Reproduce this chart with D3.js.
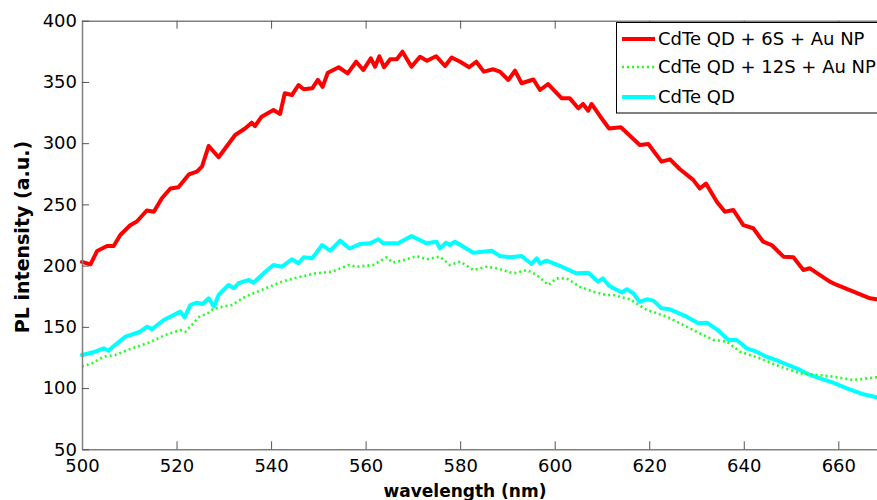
<!DOCTYPE html>
<html><head><meta charset="utf-8">
<script src="https://cdn.jsdelivr.net/npm/d3@7/dist/d3.min.js"></script>
<style>
html,body{margin:0;padding:0;background:#fff;overflow:hidden}
text{font-family:"DejaVu Sans",Verdana,sans-serif}
</style></head>
<body><svg id="c" width="877" height="500"></svg>
<script>
// ---- data ----
const seriesNames = ["CdTe QD + 6S + Au NP", "CdTe QD + 12S + Au NP", "CdTe QD"];
const xTicks = [500, 520, 540, 560, 580, 600, 620, 640, 660];
const yTicks = [50, 100, 150, 200, 250, 300, 350, 400];

const redX = [500,501.8,503.2,505.3,506.7,508.1,510.2,511.6,513.7,515.2,516.9,518.7,520.4,522.6,524.3,525.4,526.8,528.9,532.4,534.5,535.9,536.6,538,540.5,541.9,542.9,544.4,545.8,546.9,548.7,549.9,550.9,552,554.3,556.2,558,559.5,561.1,562,562.9,563.9,565.2,566.6,567.8,569.7,571.5,573,574.9,576.8,578.2,580,581.9,583.4,585,587,588.4,590.2,591.6,593,595.5,596.9,598.6,601.5,603.2,605,606,607.1,607.8,609.6,611.5,614,618,619.8,622.6,624.4,626.5,629.3,630.7,632,634.3,636,637.8,639.9,642,644.1,645.9,648.4,650.5,652.6,654,658.2,659.7,663.2,666.7,668.1,672];
const redY = [203,201,212,216,216,225,233,236,245,244,255,263,264,274.5,276.7,281,297.7,288.5,306.7,312,316.7,314,321.6,327,323.8,340.7,339.3,347.5,344,344.8,351.6,346,357.5,362,357,366.5,359.7,369.3,362.4,371,362,368.5,368.5,374.7,362.4,370.6,367.3,371,363,370,366.5,362,366.5,358.4,360.3,358.4,351.6,359.2,348.9,352,343.4,348.3,336.6,336.6,328.5,332,326.5,332,322,312,313,298.5,299.3,284.9,286.8,278.7,270,263,267,252.2,244,245.4,233,230.5,219.5,216.8,207.3,206.8,196.4,197.8,186.9,184.2,178.7,173.3,172.5,168];

const greenX = [500,502.1,504.6,507,510.6,514.1,517.6,520.8,521.9,524.7,526.8,527.9,531.7,534.5,538,542.3,545.8,549.4,552.9,556.4,558.1,561.6,564.4,565.8,568.7,570.8,572.9,575.7,577.8,580,582.8,585.6,587.7,591.3,594.1,596.2,598.7,600.4,602.5,605.3,608.2,611,612.4,615.9,619.5,623.7,627.2,630.7,633.6,636.4,639.2,643.4,647.7,651.9,655.4,658.9,663.2,668.1,672];
const greenY = [117.5,120.2,125.6,127,132.5,137,143.3,147.4,146,157.8,161.6,165.1,167.8,174.6,180.1,186.9,190.5,193.7,195,200.5,199.1,200.5,206.8,202.4,205.2,207.8,205.2,207.3,200.5,203.3,196.4,199.1,197.8,193.7,196.4,192.3,184.2,189.6,189.6,182.8,178.7,176,176,172.5,163.8,158.3,151.5,144.7,139.3,137.9,129.7,124.3,117.5,112,110.7,109.3,106.6,108.8,108];

const cyanX = [500,502.8,504.6,505.6,507,509.2,512.3,513.8,514.8,517.3,519,520.8,521.7,522.9,524.3,525.5,526.8,527.9,528.9,531,532.1,533.1,535.3,536.3,538.4,540.5,542.3,544.4,545.8,546.9,548.7,550.8,552.5,554.6,556.6,558.8,560.9,562.7,563.7,566.9,569.7,572.9,575,575.7,577,577.8,578.9,582.8,586.7,588.4,590.5,593,595.1,596.2,596.9,598.3,601.5,604.6,607.1,609.2,610.2,611.5,614.2,615.3,616.6,618,619.5,620.9,622.6,624.4,627.9,630.4,632.2,634.3,636.8,638.5,640.6,642.7,644.8,647.7,651.2,654,656.1,658.9,661.8,665.3,668.1,672];
const cyanY = [127,129.7,132.5,130.5,135.2,142,146,150.1,148,155.6,158.9,162.4,157.8,167.8,169.7,168.7,173.3,166.5,176,184.2,181.5,185.6,188.3,186,193.7,200.5,199.1,205.2,201.9,206.8,206,216.8,212.2,220.4,214,217.6,218.2,221.5,218.2,218.2,224.2,218.2,219.5,214,218.8,216.8,219.5,210.5,212.2,207.8,206.8,207.8,201.3,206,201.9,204,199.1,193.7,194.2,186.9,189.6,183.5,178,180.7,177.4,170.5,172.5,171.4,165.1,164.3,158.3,152.9,153.4,148,139.3,139.3,132.5,129.7,125.6,121.5,116.1,110.7,108,104.4,99.8,94.9,92.5,89];

// ---- chart ----
const svg = d3.select("#c");
const mLeft = 82, mTop = 20.7, mBottom = 449.3;
const pxPerNm = 4.727;
const x = d3.scaleLinear().domain([500, 700]).range([mLeft, mLeft + 200 * pxPerNm]);
const y = d3.scaleLinear().domain([50, 400]).range([mBottom, mTop]);

const series = [
  {name: seriesNames[0], xs: redX, ys: redY, color: "#ff0000", width: 4, dash: null},
  {name: seriesNames[1], xs: greenX, ys: greenY, color: "#22ff22", width: 2.6, dash: "2,3"},
  {name: seriesNames[2], xs: cyanX, ys: cyanY, color: "#00ffff", width: 4, dash: null}
];

const line = d3.line().x(d => x(d[0])).y(d => y(d[1]));
const drawOrder = [2, 1, 0];
drawOrder.forEach(i => {
  const s = series[i];
  const pts = s.xs.map((v, k) => [v, s.ys[k]]);
  svg.append("path").datum(pts).attr("d", line)
    .attr("fill", "none").attr("stroke", s.color).attr("stroke-width", s.width)
    .attr("stroke-linejoin", "round").attr("stroke-linecap", s.dash ? "butt" : "round")
    .attr("stroke-dasharray", s.dash);
});

function styleAxis(g) {
  g.select(".domain").attr("stroke", "#808080").attr("stroke-width", 1.5);
  g.selectAll(".tick line").attr("stroke", "#555").attr("stroke-width", 1);
  g.selectAll(".tick text").attr("fill", "#000").style("font-size", "18px")
    .style("font-family", '"DejaVu Sans",Verdana,sans-serif');
}

svg.append("g").attr("transform", `translate(0,${mBottom})`)
  .call(d3.axisBottom(x).tickValues(xTicks).tickFormat(d3.format("d")).tickSize(-8).tickSizeOuter(0).tickPadding(10))
  .call(styleAxis);
svg.append("g").attr("transform", `translate(0,${mTop})`)
  .call(d3.axisTop(x).tickValues(xTicks).tickFormat("").tickSize(-8).tickSizeOuter(0))
  .call(styleAxis);
svg.append("g").attr("transform", `translate(${mLeft},0)`)
  .call(d3.axisLeft(y).tickValues(yTicks).tickFormat(d3.format("d")).tickSize(-7).tickSizeOuter(0).tickPadding(5))
  .call(styleAxis);

// axis titles
svg.append("text").attr("transform", "translate(29,237) rotate(-90)")
  .attr("text-anchor", "middle").style("font-size", "19px").style("font-weight", "bold")
  .text("PL intensity (a.u.)");
svg.append("text").attr("x", 465).attr("y", 497)
  .attr("text-anchor", "middle").style("font-size", "17px").style("font-weight", "bold")
  .text("wavelength (nm)");

// legend
const lg = svg.append("g");
lg.append("rect").attr("x", 616.5).attr("y", 22.5).attr("width", 300).attr("height", 90.5)
  .attr("fill", "#fff").attr("stroke", "#000").attr("stroke-width", 1);
const rowsY = [39, 67, 97];
series.forEach((s, i) => {
  lg.append("line").attr("x1", 622).attr("x2", 655).attr("y1", rowsY[i]).attr("y2", rowsY[i])
    .attr("stroke", s.color).attr("stroke-width", s.width).attr("stroke-dasharray", s.dash);
  lg.append("text").attr("x", 658).attr("y", rowsY[i]).attr("dy", "0.35em")
    .style("font-size", "18px").text(s.name);
});
</script></body></html>
